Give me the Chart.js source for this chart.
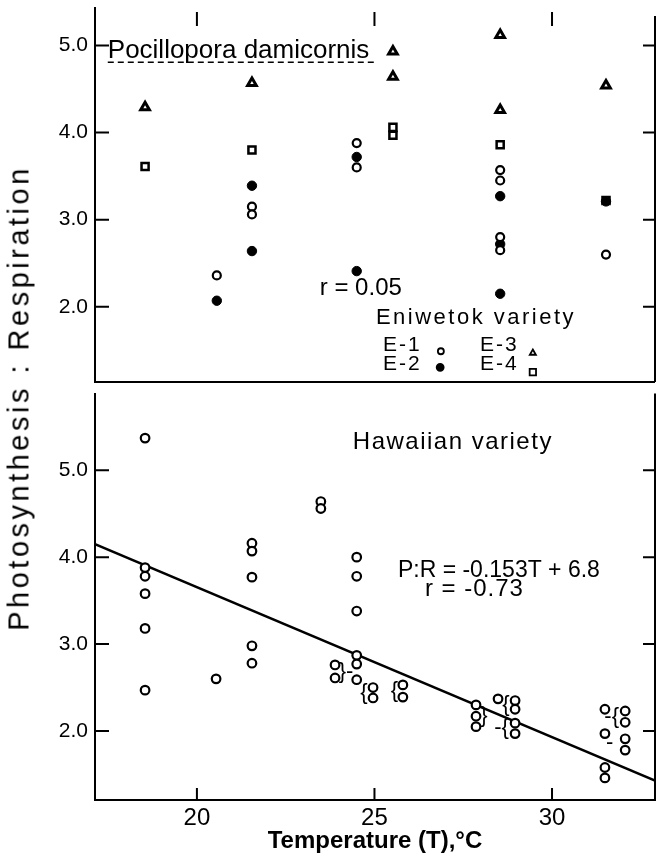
<!DOCTYPE html>
<html>
<head>
<meta charset="utf-8">
<title>Photosynthesis : Respiration vs temperature</title>
<script src="https://cdn.jsdelivr.net/npm/chart.js@4.4.1/dist/chart.umd.min.js"></script>
<style>
  html, body { margin: 0; padding: 0; background: #fff; }
  #wrap { position: relative; width: 666px; height: 856px; overflow: hidden; }
  #topChart { position: absolute; left: 0; top: 0; }
  #botChart { position: absolute; left: 0; top: 387px; }
  #yTitle {
    position: absolute; left: 19px; top: 398px;
    transform: translate(-50%, -50%) rotate(-90deg);
    white-space: nowrap;
    font: 29px "Liberation Sans", Arial, sans-serif;
    letter-spacing: 3.5px;
    color: #000;
  }
</style>
</head>
<body>
<div id="wrap">
  <canvas id="topChart" width="666" height="390"></canvas>
  <canvas id="botChart" width="666" height="469"></canvas>
  <div id="yTitle">Photosynthesis : Respiration</div>
</div>
<script>
// Eniwetok variety (upper panel) - temperature (°C) and P:R ratio
const e1Temp  = [20.56, 21.55, 21.55, 24.5, 24.5, 28.54, 28.54, 28.54, 28.54, 31.52];
const e1Ratio = [2.36, 3.15, 3.06, 3.88, 3.60, 3.57, 3.45, 2.80, 2.65, 2.60];
const e2Temp  = [20.56, 21.55, 21.55, 24.5, 24.5, 28.54, 28.54, 28.54, 31.52];
const e2Ratio = [2.07, 3.39, 2.64, 3.72, 2.41, 3.27, 2.72, 2.15, 3.21];
const e3Temp  = [18.54, 21.55, 25.52, 25.52, 28.54, 28.54, 31.52];
const e3Ratio = [4.29, 4.57, 4.93, 4.64, 5.12, 4.26, 4.54];
const e4Temp  = [18.54, 21.55, 25.52, 25.52, 28.54, 31.52];
const e4Ratio = [3.61, 3.80, 4.06, 3.97, 3.86, 3.22];

// Hawaiian variety (lower panel)
const hawTemp = [18.54, 18.54, 18.54, 18.54, 18.54, 18.54,
                 20.54,
                 21.55, 21.55, 21.55, 21.55, 21.55,
                 23.49, 23.49,
                 24.5, 24.5, 24.5, 24.5, 24.5, 24.5,
                 23.89, 23.89, 24.96, 24.96, 25.8, 25.8,
                 27.86, 27.86, 27.86, 28.48,
                 28.96, 28.96, 28.96, 28.96,
                 31.49, 31.49, 31.49, 31.49,
                 32.06, 32.06, 32.06, 32.06];
const hawRatio = [5.37, 3.88, 3.78, 3.58, 3.18, 2.47,
                  2.60,
                  4.16, 4.07, 3.77, 2.98, 2.78,
                  4.64, 4.56,
                  4.00, 3.78, 3.38, 2.87, 2.77, 2.59,
                  2.76, 2.61, 2.50, 2.38, 2.53, 2.39,
                  2.30, 2.17, 2.05, 2.37,
                  2.35, 2.25, 2.09, 1.97,
                  2.25, 1.97, 1.58, 1.46,
                  2.23, 2.10, 1.91, 1.78];

// fitted line P:R = -0.153T + 6.8 as drawn (end points)
const fitTemp  = [17.13, 32.9];
const fitRatio = [4.15, 1.43];

// axes
const xTicks = [20, 25, 30];
const yTicks = [2, 3, 4, 5];
const xRange = [17.13, 32.9];
const topRange = [1.137, 5.43];
const botRange = [1.206, 5.883];

const FONT = '"Liberation Sans", Arial, sans-serif';

function pts(xs, ys) {
  return xs.map((v, i) => ({x: v, y: ys[i]}));
}

// frame lines and inward tick marks
const frameTicks = {
  id: 'frameTicks',
  afterDraw(chart, args, opts) {
    const {ctx, chartArea: a, scales} = chart;
    ctx.save();
    ctx.strokeStyle = '#000';
    ctx.lineWidth = 2;
    ctx.beginPath();
    // right border
    ctx.moveTo(a.right, a.top + (opts.rightGap || 0));
    ctx.lineTo(a.right, a.bottom);
    if (opts.divider) {
      ctx.moveTo(a.left, a.bottom);
      ctx.lineTo(a.right, a.bottom);
    }
    scales.y.ticks.forEach(t => {
      const py = scales.y.getPixelForValue(t.value);
      ctx.moveTo(a.left, py); ctx.lineTo(a.left + 14, py);
      ctx.moveTo(a.right, py); ctx.lineTo(a.right - 12, py);
    });
    xTicks.forEach(v => {
      const px = scales.x.getPixelForValue(v);
      if (opts.topTicks) {
        ctx.moveTo(px, a.top + 4); ctx.lineTo(px, a.top + 18);
      }
      if (opts.bottomTicks) {
        ctx.moveTo(px, a.bottom); ctx.lineTo(px, a.bottom - 12);
      }
    });
    ctx.stroke();
    ctx.restore();
  }
};

// text notes and legend keys placed in data units
const notes = {
  id: 'notes',
  afterDatasetsDraw(chart, args, opts) {
    const {ctx, scales: {x, y}} = chart;
    ctx.save();
    ctx.fillStyle = '#000';
    ctx.strokeStyle = '#000';
    (opts.texts || []).forEach(n => {
      ctx.font = n.font;
      ctx.textAlign = n.align || 'left';
      ctx.textBaseline = n.baseline || 'alphabetic';
      ctx.letterSpacing = (n.spacing || 0) + 'px';
      const px = x.getPixelForValue(n.at[0]);
      const py = y.getPixelForValue(n.at[1]);
      if (n.maxWidth) ctx.fillText(n.text, px, py, n.maxWidth);
      else ctx.fillText(n.text, px, py);
      if (n.underline) {
        const w = n.maxWidth || ctx.measureText(n.text).width;
        ctx.save();
        ctx.lineWidth = 1.5;
        ctx.setLineDash([6, 4]);
        ctx.beginPath();
        ctx.moveTo(px, py + 4); ctx.lineTo(px + w, py + 4);
        ctx.stroke();
        ctx.restore();
      }
    });
    ctx.letterSpacing = '0px';
    (opts.keys || []).forEach(k => {
      ctx.fillStyle = k.fill;
      ctx.lineWidth = 1.8;
      Chart.helpers.drawPoint(ctx, {pointStyle: k.style, radius: k.radius, borderWidth: 1.8, rotation: 0},
        x.getPixelForValue(k.at[0]), y.getPixelForValue(k.at[1]));
    });
    ctx.restore();
  }
};

function yScale(range) {
  return {
    type: 'linear',
    min: range[0],
    max: range[1],
    afterFit: s => { s.width = 95; s.paddingTop = 0; s.paddingBottom = 0; },
    afterBuildTicks: s => { s.ticks = yTicks.map(v => ({value: v})); },
    grid: {display: true, drawOnChartArea: false, drawTicks: false},
    border: {display: true, width: 2, color: '#000'},
    ticks: {
      color: '#000',
      padding: 7,
      font: {family: FONT, size: 21},
      callback: v => v.toFixed(1)
    }
  };
}

const marker = (style, r, bg, bw) => ({
  pointStyle: style, pointRadius: r, pointHoverRadius: r,
  backgroundColor: bg, borderColor: '#000', borderWidth: bw
});

// small bracket marks that group crowded points
const brace = (text, at) => ({text, at, font: '22px ' + FONT, align: 'center', baseline: 'middle'});

const topChart = new Chart(document.getElementById('topChart'), {
  type: 'scatter',
  data: {
    datasets: [
      Object.assign({label: 'E-1', data: pts(e1Temp, e1Ratio)}, marker('circle', 4, '#fff', 2.2)),
      Object.assign({label: 'E-2', data: pts(e2Temp, e2Ratio)}, marker('circle', 4.7, '#000', 1)),
      Object.assign({label: 'E-3', data: pts(e3Temp, e3Ratio)}, marker('triangle', 5, '#fff', 3)),
      Object.assign({label: 'E-4', data: pts(e4Temp, e4Ratio)}, marker('rect', 5, '#fff', 2.5))
    ]
  },
  options: {
    responsive: false,
    animation: false,
    layout: {padding: {left: 0, right: 11, top: 4, bottom: 3}},
    scales: {
      x: {type: 'linear', display: false, min: xRange[0], max: xRange[1]},
      y: yScale(topRange)
    },
    plugins: {
      legend: {display: false},
      tooltip: {enabled: false},
      frameTicks: {topTicks: true, divider: true, rightGap: 8},
      notes: {
        texts: [
          {text: 'Pocillopora damicornis', at: [17.49, 4.854], font: '26px ' + FONT, maxWidth: 269, underline: true},
          {text: 'r = 0.05', at: [23.46, 2.14], font: '24px ' + FONT},
          {text: 'Eniwetok variety', at: [25.04, 1.80], font: '22px ' + FONT, spacing: 2.5},
          {text: 'E-1', at: [25.24, 1.495], font: '21px ' + FONT, spacing: 2},
          {text: 'E-3', at: [27.97, 1.495], font: '21px ' + FONT, spacing: 2},
          {text: 'E-2', at: [25.24, 1.271], font: '21px ' + FONT, spacing: 2},
          {text: 'E-4', at: [27.97, 1.271], font: '21px ' + FONT, spacing: 2}
        ],
        keys: [
          {style: 'circle', radius: 3, fill: '#fff', at: [26.87, 1.49]},
          {style: 'triangle', radius: 3.5, fill: '#fff', at: [29.46, 1.47]},
          {style: 'circle', radius: 3.5, fill: '#000', at: [26.85, 1.305]},
          {style: 'rect', radius: 4.5, fill: '#fff', at: [29.46, 1.25]}
        ]
      }
    }
  },
  plugins: [frameTicks, notes]
});

const botChart = new Chart(document.getElementById('botChart'), {
  type: 'scatter',
  data: {
    datasets: [
      Object.assign({label: 'Hawaiian', data: pts(hawTemp, hawRatio)}, marker('circle', 4.3, '#fff', 2.2)),
      {
        type: 'line',
        label: 'P:R fit',
        data: pts(fitTemp, fitRatio),
        borderColor: '#000',
        borderWidth: 2.5,
        pointRadius: 0,
        fill: false
      }
    ]
  },
  options: {
    responsive: false,
    animation: false,
    layout: {padding: {left: 0, right: 11, top: 0, bottom: 0}},
    scales: {
      x: {
        type: 'linear',
        min: xRange[0],
        max: xRange[1],
        afterFit: s => { s.height = 56; },
        afterBuildTicks: s => { s.ticks = xTicks.map(v => ({value: v})); },
        grid: {display: true, drawOnChartArea: false, drawTicks: false},
        border: {display: true, width: 2, color: '#000'},
        ticks: {color: '#000', padding: 4, font: {family: FONT, size: 24}},
        title: {
          display: true,
          text: 'Temperature (T),°C',
          color: '#000',
          padding: {top: 0, bottom: 0},
          font: {family: FONT, size: 24, weight: 'bold'}
        }
      },
      y: yScale(botRange)
    },
    plugins: {
      legend: {display: false},
      tooltip: {enabled: false},
      frameTicks: {bottomTicks: true},
      notes: {
        texts: [
          {text: 'Hawaiian variety', at: [24.39, 5.249], font: '24px ' + FONT, spacing: 1.5},
          {text: 'P:R = -0.153T + 6.8', at: [25.66, 3.777], font: '24px ' + FONT, maxWidth: 202},
          {text: 'r = -0.73', at: [26.42, 3.55], font: '24px ' + FONT, spacing: 1},
          brace('}-', [24.2, 2.68]),
          brace('{', [24.7, 2.44]),
          brace('{', [25.56, 2.46]),
          brace('}', [28.08, 2.17]),
          brace('{', [28.7, 2.30]),
          brace('-{', [28.58, 2.03]),
          brace('-{', [31.68, 2.16]),
          brace('-', [31.62, 1.86])
        ]
      }
    }
  },
  plugins: [frameTicks, notes]
});
</script>
</body>
</html>
